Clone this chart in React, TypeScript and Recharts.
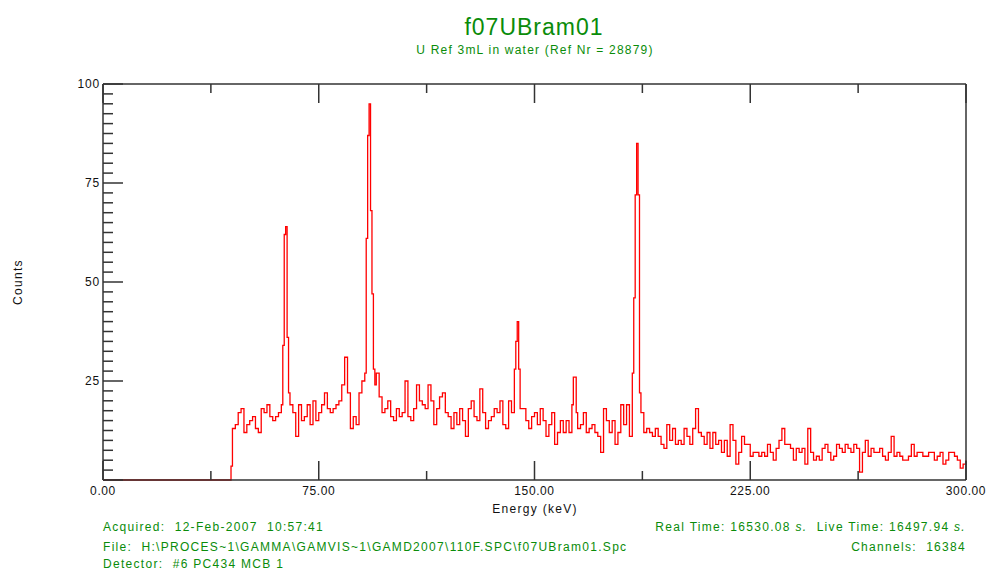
import React from "react";
import { LineChart, Line, XAxis, YAxis } from "recharts";

// ---- Data ----
const leadInEnergy = [0, 44.5];
const leadInCounts = [0, 3.5];

// 1 keV bins 45..62
const countsA = [13, 14, 17, 18, 12, 14, 15, 16, 13, 12, 18, 17, 19, 16, 15, 16, 17, 19];
// 0.5 keV bins 62.5..64.5 (63 keV peak)
const peak63 = [34, 62, 64, 36, 22];
// 1 keV bins 65..91
const countsB = [19, 17, 11, 19, 15, 16, 19, 14, 20, 15, 17, 19, 22, 18, 17, 18, 19, 20, 24, 31, 22, 13, 16, 14, 22, 25, 27];
// 0.5 keV bins 91.5..94.5 (92.5 keV peak)
const peak92 = [61, 87, 95, 68, 47, 28, 24];
// 1 keV bins 95..142
const countsC = [27, 21, 17, 18, 20, 16, 15, 18, 16, 17, 25, 16, 15, 18, 24, 20, 19, 18, 24, 20, 14, 18, 21, 22, 17, 16, 13, 17, 14, 18, 15, 11, 18, 20, 16, 15, 23, 17, 13, 15, 16, 18, 17, 20, 14, 13, 20, 17];
// 0.5 keV bins 143..145 (144 keV peak)
const peak144 = [28, 35, 40, 28, 18];
// 1 keV bins 146..162
const countsD = [18, 15, 13, 16, 17, 14, 18, 15, 11, 14, 17, 9, 12, 15, 12, 15, 12];
// 0.5 keV bins 163..164.5 (163 keV peak)
const peak163 = [19, 26, 26, 17];
// 1 keV bins 165..183
const countsE = [13, 14, 17, 12, 13, 14, 12, 11, 7, 18, 15, 12, 15, 9, 12, 19, 14, 19, 11];
// 0.5 keV bins 184..187 (186 keV peak)
const peak186 = [27, 46, 72, 85, 72, 22, 17];
// 1 keV bins 188..241
const countsF = [12, 13, 12, 11, 13, 11, 9, 8, 14, 10, 13, 9, 10, 9, 13, 11, 9, 13, 18, 12, 11, 9, 12, 8, 12, 9, 10, 7, 10, 6, 14, 10, 4, 7, 11, 9, 9, 6, 7, 7, 6, 7, 6, 9, 7, 5, 8, 10, 13, 9, 9, 8, 5, 8];
// 1 keV bins 242..300
const countsG = [7, 8, 4, 13, 7, 5, 6, 5, 8, 9, 7, 5, 6, 9, 8, 7, 9, 8, 7, 9, 8, 2, 7, 10, 6, 8, 7, 7, 8, 6, 5, 7, 11, 6, 7, 6, 5, 5, 6, 9, 6, 7, 7, 6, 6, 7, 7, 5, 6, 7, 4, 5, 7, 7, 6, 5, 3, 4, 5];

const segStarts = [45, 62.5, 65, 91.5, 95, 143, 146, 163, 165, 184, 188, 242];
const segSteps = [1, 0.5, 1, 0.5, 1, 0.5, 1, 0.5, 1, 0.5, 1, 1];
const segCounts = [countsA, peak63, countsB, peak92, countsC, peak144, countsD, peak163, countsE, peak186, countsF, countsG];

const xTicks = [0, 37.5, 75, 112.5, 150, 187.5, 225, 262.5, 300];
const xLabelTicks = [0, 75, 150, 225, 300];
const yTicks = [0, 2.5, 5, 7.5, 10, 12.5, 15, 17.5, 20, 22.5, 25, 27.5, 30, 32.5, 35, 37.5, 40, 42.5, 45, 47.5, 50, 52.5, 55, 57.5, 60, 62.5, 65, 67.5, 70, 72.5, 75, 77.5, 80, 82.5, 85, 87.5, 90, 92.5, 95, 97.5, 100];
const yLabelTicks = [25, 50, 75, 100];

const data: { e: number; c: number }[] = [];
leadInEnergy.forEach((e, i) => data.push({ e, c: leadInCounts[i] }));
segCounts.forEach((arr, s) => {
  arr.forEach((c, i) => data.push({ e: segStarts[s] + i * segSteps[s], c }));
});

const FONT = "Arial, 'Liberation Sans', sans-serif";
const GREEN = "#0a8c0a";
const AXIS = "#333333";

const isMajorX = (v: number) => xLabelTicks.indexOf(v) >= 0;
const isMajorY = (v: number) => v % 25 === 0;

const BottomTick = (props: any) => {
  const { x, y, payload } = props;
  const v = payload.value;
  const major = isMajorX(v);
  return (
    <g>
      <line x1={x} y1={y} x2={x} y2={y - (major ? 19 : 9)} stroke={AXIS} strokeWidth={1.5} />
      {major && (
        <text x={x} y={y + 15} textAnchor="middle" fontFamily={FONT} fontSize={12} fill="#111" style={{ letterSpacing: "0.6px" }}>
          {v.toFixed(2)}
        </text>
      )}
    </g>
  );
};

const TopTick = (props: any) => {
  const { x, y, payload } = props;
  const major = isMajorX(payload.value);
  return <line x1={x} y1={y} x2={x} y2={y + (major ? 19 : 9)} stroke={AXIS} strokeWidth={1.5} />;
};

const LeftTick = (props: any) => {
  const { x, y, payload } = props;
  const v = payload.value;
  const major = isMajorY(v);
  return (
    <g>
      <line x1={x} y1={y} x2={x + (major ? 20 : 10)} y2={y} stroke={AXIS} strokeWidth={1.5} />
      {yLabelTicks.indexOf(v) >= 0 && (
        <text x={x - 3} y={y + 4} textAnchor="end" fontFamily={FONT} fontSize={12} fill="#111" style={{ letterSpacing: "0.8px" }}>
          {String(v)}
        </text>
      )}
    </g>
  );
};

const RightTick = (props: any) => {
  const { x, y, payload } = props;
  const major = isMajorY(payload.value);
  return <line x1={x} y1={y} x2={x - (major ? 20 : 10)} y2={y} stroke={AXIS} strokeWidth={1.5} />;
};

const txt = { fontFamily: FONT, fontSize: 12, letterSpacing: "1.3px" } as React.CSSProperties;

export default function App() {
  return (
    <div style={{ position: "absolute", left: 0, top: 0, width: 988, height: 571, background: "#fff", overflow: "hidden" }}>
      <LineChart width={988} height={571} data={data} margin={{ top: 83, right: 21, bottom: 90, left: 102 }}>
        <XAxis
          dataKey="e"
          type="number"
          domain={[0, 300]}
          ticks={xTicks}
          interval={0}
          height={1}
          tickSize={0}
          tickMargin={0}
          tickLine={false}
          axisLine={{ stroke: AXIS, strokeWidth: 1.5 }}
          tick={BottomTick}
        />
        <XAxis
          xAxisId="top"
          orientation="top"
          dataKey="e"
          type="number"
          domain={[0, 300]}
          ticks={xTicks}
          interval={0}
          height={1}
          tickSize={0}
          tickMargin={0}
          tickLine={false}
          axisLine={{ stroke: AXIS, strokeWidth: 1.5 }}
          tick={TopTick}
        />
        <YAxis
          type="number"
          domain={[0, 100]}
          ticks={yTicks}
          interval={0}
          width={1}
          tickSize={0}
          tickMargin={0}
          tickLine={false}
          axisLine={{ stroke: AXIS, strokeWidth: 1.5 }}
          tick={LeftTick}
        />
        <YAxis
          yAxisId="right"
          orientation="right"
          type="number"
          domain={[0, 100]}
          ticks={yTicks}
          interval={0}
          width={1}
          tickSize={0}
          tickMargin={0}
          tickLine={false}
          axisLine={{ stroke: AXIS, strokeWidth: 1.5 }}
          tick={RightTick}
        />
        <Line
          type="stepAfter"
          dataKey="c"
          stroke="#ff0000"
          strokeWidth={1.3}
          dot={false}
          activeDot={false}
          isAnimationActive={false}
        />
      </LineChart>
      <svg width={988} height={571} style={{ position: "absolute", left: 0, top: 0, pointerEvents: "none" }}>
        <text x={534} y={35} textAnchor="middle" fill={GREEN} fontFamily={FONT} fontSize={23} style={{ letterSpacing: "1px" }}>
          f07UBram01
        </text>
        <text x={535} y={54} textAnchor="middle" fill={GREEN} style={{ ...txt, letterSpacing: "1.2px" }}>
          U Ref 3mL in water (Ref Nr = 28879)
        </text>
        <text x={22} y={282} textAnchor="middle" fill="#111" transform="rotate(-90 22 282)" style={txt}>
          Counts
        </text>
        <text x={535} y={513} textAnchor="middle" fill="#111" style={txt}>
          Energy (keV)
        </text>
        <text x={103} y={531} fill={GREEN} style={txt} xmlSpace="preserve">
          {"Acquired:  12-Feb-2007  10:57:41"}
        </text>
        <text x={103} y={551} fill={GREEN} style={txt} xmlSpace="preserve">
          {"File:  H:\\PROCES~1\\GAMMA\\GAMVIS~1\\GAMD2007\\110F.SPC\\f07UBram01.Spc"}
        </text>
        <text x={103} y={568} fill={GREEN} style={txt} xmlSpace="preserve">
          {"Detector:  #6 PC434 MCB 1"}
        </text>
        <text x={966} y={531} textAnchor="end" fill={GREEN} style={txt} xmlSpace="preserve">
          {"Real Time: 16530.08 "}
          <tspan fontStyle="italic">s.</tspan>
          {"  Live Time: 16497.94 "}
          <tspan fontStyle="italic">s.</tspan>
        </text>
        <text x={966} y={551} textAnchor="end" fill={GREEN} style={txt} xmlSpace="preserve">
          {"Channels:  16384"}
        </text>
      </svg>
    </div>
  );
}
